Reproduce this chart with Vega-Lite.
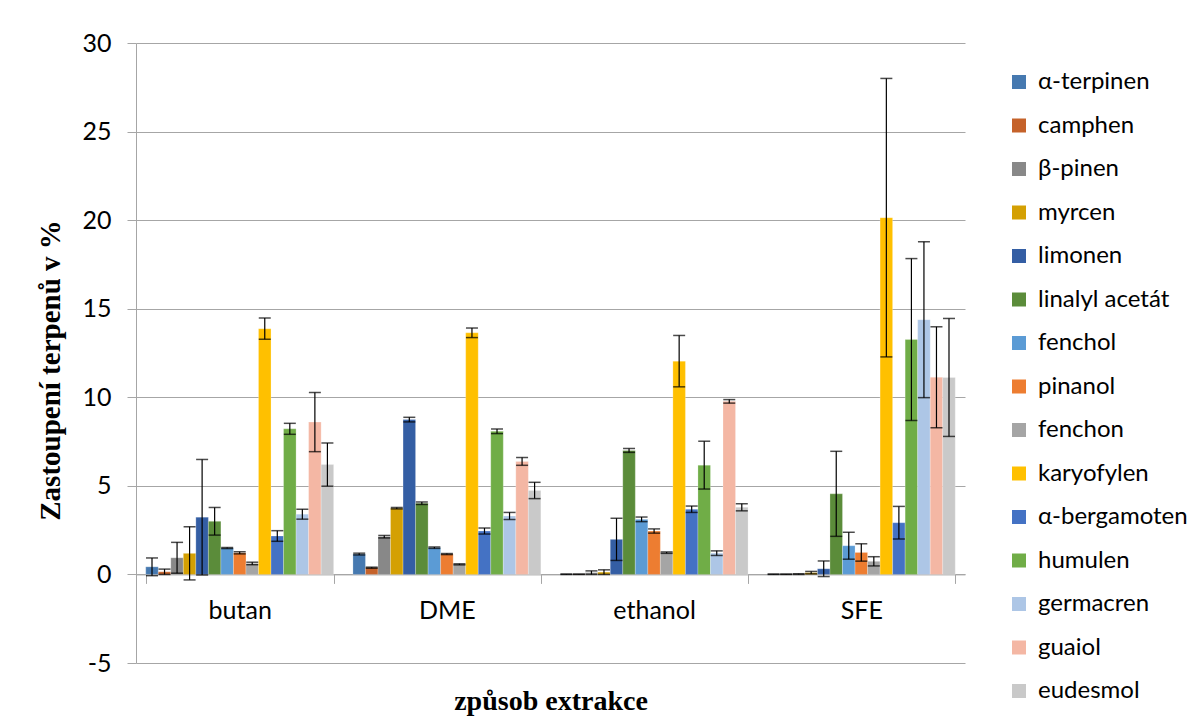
{
  "$schema": "https://vega.github.io/schema/vega-lite/v6.json",
  "width": 829,
  "height": 620,
  "autosize": {"type": "none"},
  "padding": {"left": 136, "top": 43, "right": 233, "bottom": 62},
  "background": "white",
  "config": {"view": {"stroke": null}},
  "data": {"values": [
    {"m":"butan","c":"α-terpinen","v":0.43,"lo":-0.07,"hi":0.93},
    {"m":"butan","c":"camphen","v":0.15,"lo":0.0,"hi":0.3},
    {"m":"butan","c":"β-pinen","v":0.94,"lo":0.07,"hi":1.81},
    {"m":"butan","c":"myrcen","v":1.19,"lo":-0.31,"hi":2.69},
    {"m":"butan","c":"limonen","v":3.23,"lo":-0.03,"hi":6.49},
    {"m":"butan","c":"linalyl acetát","v":3.0,"lo":2.22,"hi":3.78},
    {"m":"butan","c":"fenchol","v":1.49,"lo":1.46,"hi":1.52},
    {"m":"butan","c":"pinanol","v":1.22,"lo":1.16,"hi":1.28},
    {"m":"butan","c":"fenchon","v":0.62,"lo":0.55,"hi":0.69},
    {"m":"butan","c":"karyofylen","v":13.87,"lo":13.27,"hi":14.47},
    {"m":"butan","c":"α-bergamoten","v":2.17,"lo":1.87,"hi":2.47},
    {"m":"butan","c":"humulen","v":8.22,"lo":7.91,"hi":8.53},
    {"m":"butan","c":"germacren","v":3.4,"lo":3.12,"hi":3.68},
    {"m":"butan","c":"guaiol","v":8.6,"lo":6.93,"hi":10.27},
    {"m":"butan","c":"eudesmol","v":6.2,"lo":4.98,"hi":7.42},
    {"m":"DME","c":"α-terpinen","v":1.15,"lo":1.1,"hi":1.2},
    {"m":"DME","c":"camphen","v":0.38,"lo":0.35,"hi":0.41},
    {"m":"DME","c":"β-pinen","v":2.13,"lo":2.06,"hi":2.2},
    {"m":"DME","c":"myrcen","v":3.74,"lo":3.7,"hi":3.78},
    {"m":"DME","c":"limonen","v":8.74,"lo":8.61,"hi":8.87},
    {"m":"DME","c":"linalyl acetát","v":4.02,"lo":3.95,"hi":4.09},
    {"m":"DME","c":"fenchol","v":1.51,"lo":1.47,"hi":1.55},
    {"m":"DME","c":"pinanol","v":1.15,"lo":1.12,"hi":1.18},
    {"m":"DME","c":"fenchon","v":0.57,"lo":0.54,"hi":0.6},
    {"m":"DME","c":"karyofylen","v":13.64,"lo":13.37,"hi":13.91},
    {"m":"DME","c":"α-bergamoten","v":2.45,"lo":2.28,"hi":2.62},
    {"m":"DME","c":"humulen","v":8.08,"lo":7.95,"hi":8.21},
    {"m":"DME","c":"germacren","v":3.3,"lo":3.1,"hi":3.5},
    {"m":"DME","c":"guaiol","v":6.38,"lo":6.16,"hi":6.6},
    {"m":"DME","c":"eudesmol","v":4.74,"lo":4.28,"hi":5.2},
    {"m":"ethanol","c":"α-terpinen","v":0.01,"lo":0.0,"hi":0.02},
    {"m":"ethanol","c":"camphen","v":0.01,"lo":0.0,"hi":0.02},
    {"m":"ethanol","c":"β-pinen","v":0.1,"lo":0.0,"hi":0.2},
    {"m":"ethanol","c":"myrcen","v":0.13,"lo":0.0,"hi":0.26},
    {"m":"ethanol","c":"limonen","v":1.98,"lo":0.79,"hi":3.17},
    {"m":"ethanol","c":"linalyl acetát","v":7.0,"lo":6.89,"hi":7.11},
    {"m":"ethanol","c":"fenchol","v":3.11,"lo":2.98,"hi":3.24},
    {"m":"ethanol","c":"pinanol","v":2.45,"lo":2.33,"hi":2.57},
    {"m":"ethanol","c":"fenchon","v":1.23,"lo":1.19,"hi":1.27},
    {"m":"ethanol","c":"karyofylen","v":12.04,"lo":10.59,"hi":13.49},
    {"m":"ethanol","c":"α-bergamoten","v":3.68,"lo":3.5,"hi":3.86},
    {"m":"ethanol","c":"humulen","v":6.17,"lo":4.82,"hi":7.52},
    {"m":"ethanol","c":"germacren","v":1.2,"lo":1.07,"hi":1.33},
    {"m":"ethanol","c":"guaiol","v":9.77,"lo":9.67,"hi":9.87},
    {"m":"ethanol","c":"eudesmol","v":3.79,"lo":3.59,"hi":3.99},
    {"m":"SFE","c":"α-terpinen","v":0.01,"lo":0.0,"hi":0.02},
    {"m":"SFE","c":"camphen","v":0.01,"lo":0.0,"hi":0.02},
    {"m":"SFE","c":"β-pinen","v":0.02,"lo":0.0,"hi":0.04},
    {"m":"SFE","c":"myrcen","v":0.1,"lo":0.03,"hi":0.17},
    {"m":"SFE","c":"limonen","v":0.32,"lo":-0.12,"hi":0.76},
    {"m":"SFE","c":"linalyl acetát","v":4.55,"lo":2.15,"hi":6.95},
    {"m":"SFE","c":"fenchol","v":1.62,"lo":0.86,"hi":2.38},
    {"m":"SFE","c":"pinanol","v":1.24,"lo":0.75,"hi":1.73},
    {"m":"SFE","c":"fenchon","v":0.74,"lo":0.48,"hi":1.0},
    {"m":"SFE","c":"karyofylen","v":20.14,"lo":12.28,"hi":28.0},
    {"m":"SFE","c":"α-bergamoten","v":2.92,"lo":2.0,"hi":3.84},
    {"m":"SFE","c":"humulen","v":13.26,"lo":8.69,"hi":17.83},
    {"m":"SFE","c":"germacren","v":14.38,"lo":9.98,"hi":18.78},
    {"m":"SFE","c":"guaiol","v":11.13,"lo":8.28,"hi":13.98},
    {"m":"SFE","c":"eudesmol","v":11.12,"lo":7.79,"hi":14.45}
  ]},
  "encoding": {
    "x": {
      "field": "m", "type": "nominal",
      "sort": ["butan", "DME", "ethanol", "SFE"],
      "scale": {"paddingInner": 0.093, "paddingOuter": 0.047},
      "axis": {
        "title": "způsob extrakce",
        "titleFont": "Liberation Serif", "titleFontSize": 28, "titleFontWeight": "bold", "titleColor": "#000000",
        "titlePadding": 64,
        "labelFont": "Lato", "labelFontSize": 25, "labelColor": "#000000", "labelPadding": 15, "labelAngle": 0,
        "offset": -88.6,
        "domainColor": "#A6A6A6", "domainWidth": 1,
        "tickBand": "extent", "tickColor": "#A6A6A6", "tickSize": 9,
        "grid": false
      }
    },
    "xOffset": {
      "field": "c", "type": "nominal",
      "scale": {"domain": ["α-terpinen","camphen","β-pinen","myrcen","limonen","linalyl acetát","fenchol","pinanol","fenchon","karyofylen","α-bergamoten","humulen","germacren","guaiol","eudesmol"], "paddingInner": 0, "paddingOuter": 0}
    }
  },
  "layer": [
    {
      "mark": {"type": "bar", "stroke": "#ffffff", "strokeWidth": 0.4, "strokeOpacity": 0.6},
      "encoding": {
        "y": {
          "field": "v", "type": "quantitative",
          "scale": {"domain": [-5, 30], "nice": false, "zero": false},
          "axis": {
            "title": "Zastoupení terpenů v %",
            "titleFont": "Liberation Serif", "titleFontSize": 29, "titleFontWeight": "bold", "titleColor": "#000000",
            "titlePadding": 16,
            "titleY": 327,
            "values": [-5, 0, 5, 10, 15, 20, 25, 30],
            "labelExpr": "toString(datum.value)",
            "labelFont": "Lato", "labelFontSize": 25, "labelColor": "#000000", "labelPadding": 16,
            "ticks": true, "tickSize": 9, "tickColor": "#A6A6A6",
            "domainColor": "#A6A6A6",
            "gridColor": "#A6A6A6", "gridWidth": 1
          }
        },
        "color": {
          "field": "c", "type": "nominal",
          "scale": {
            "domain": ["α-terpinen","camphen","β-pinen","myrcen","limonen","linalyl acetát","fenchol","pinanol","fenchon","karyofylen","α-bergamoten","humulen","germacren","guaiol","eudesmol"],
            "range": ["#4679B0","#C5622A","#888888","#D4A003","#345EA4","#5B8C3A","#5B9BD5","#ED7D31","#A5A5A5","#FFC000","#4472C4","#70AD47","#ADC6E6","#F4B7A4","#C9C9C9"]
          },
          "legend": {
            "title": null,
            "orient": "none", "legendX": 871, "legendY": 27,
            "symbolType": "square", "symbolSize": 196, "symbolStrokeWidth": 0,
            "labelFont": "Lato", "labelFontSize": 24, "labelColor": "#000000", "labelOffset": 7,
            "rowPadding": 19.5
          }
        }
      }
    },
    {
      "mark": {"type": "rule", "color": "#000000", "strokeWidth": 1.2},
      "encoding": {
        "y": {"field": "lo", "type": "quantitative"},
        "y2": {"field": "hi"}
      }
    },
    {
      "mark": {"type": "tick", "color": "#000000", "thickness": 1.5, "size": 12},
      "encoding": {"y": {"field": "lo", "type": "quantitative"}}
    },
    {
      "mark": {"type": "tick", "color": "#000000", "thickness": 1.5, "size": 12},
      "encoding": {"y": {"field": "hi", "type": "quantitative"}}
    }
  ]
}
